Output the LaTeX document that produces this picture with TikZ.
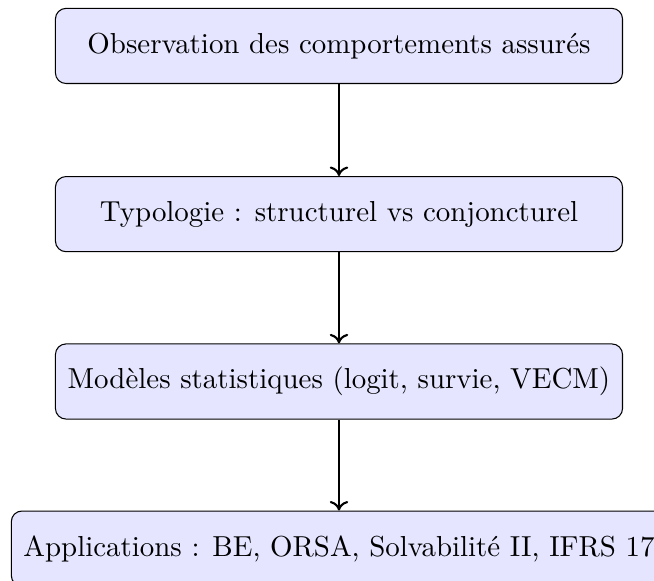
\documentclass[tikz,border=0pt]{standalone}
\usetikzlibrary{positioning,arrows.meta}
\begin{document}
\begin{tikzpicture}[
  stepbox/.style={draw, rounded corners, fill=blue!10, minimum width=214.8pt, minimum height=1cm, inner xsep=4.6pt, align=center, font=\fontsize{10.95}{13.6}\selectfont},
  flow/.style={-{To[length=3.6pt,width=7pt]}, thick}
]
\useasboundingbox (0,0) rectangle (247.73pt,-219.70pt);
\clip (0,0) rectangle (247.73pt,-219.70pt);
\node[stepbox] (a) at (128.4pt,-17.4pt) {Observation des comportements assurés};
\node[stepbox] (b) at (128.4pt,-81.1pt) {Typologie : structurel vs conjoncturel};
\node[stepbox] (c) at (128.4pt,-144.5pt) {Modèles statistiques (logit, survie, VECM)};
\node[stepbox] (d) at (128.4pt,-207.8pt) {Applications : BE, ORSA, Solvabilité II, IFRS 17};
\draw[flow] (a) -- (b);
\draw[flow] (b) -- (c);
\draw[flow] (c) -- (d);
\end{tikzpicture}
\end{document}
